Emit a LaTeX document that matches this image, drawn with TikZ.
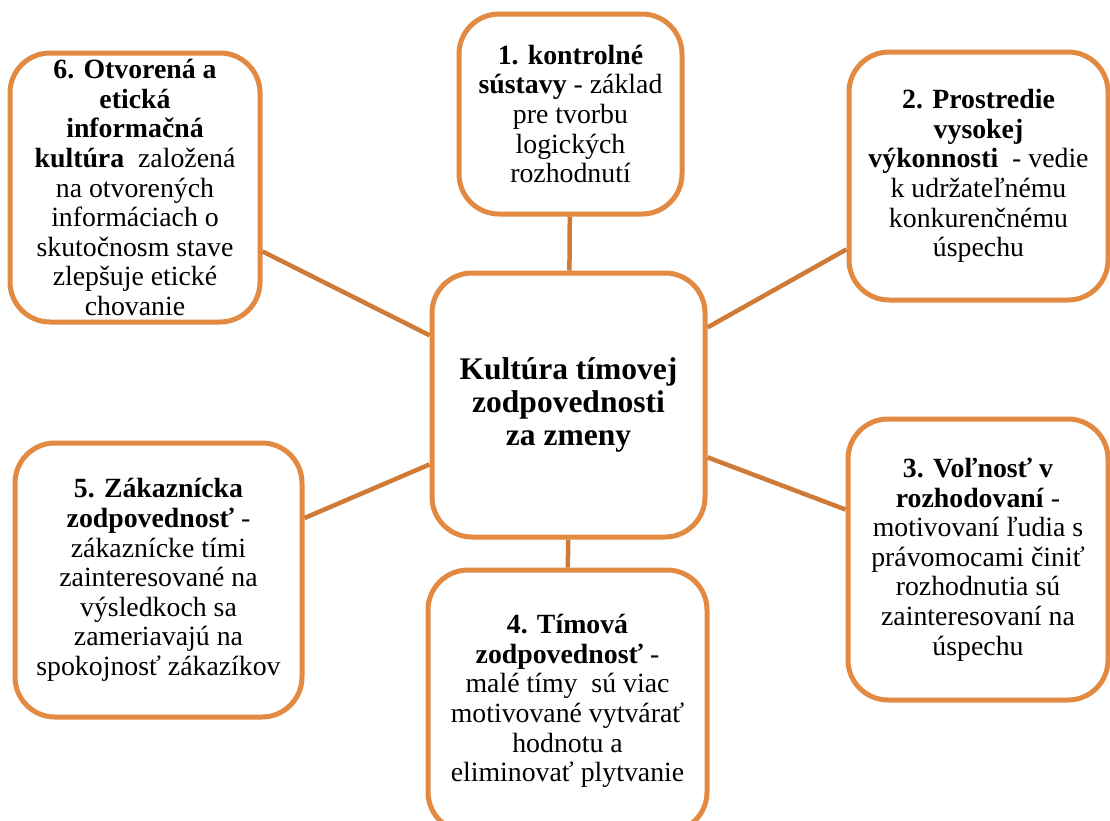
\documentclass[tikz,border=0pt]{standalone}
\usepackage{fontspec}
\newfontfamily\timesfont{LiberationSerif}[Extension=.ttf, UprightFont=*-Regular, BoldFont=*-Bold]
\definecolor{boxorange}{RGB}{226,137,66}
\definecolor{lineorange}{RGB}{207,123,55}
\tikzset{
  idea/.style={draw=boxorange, line width=5pt, fill=white, rounded corners=40pt,
    rectangle, inner sep=0pt, align=center,
    font=\timesfont\fontsize{27.8}{29.6}\selectfont},
  hub/.style={idea, font=\timesfont\fontsize{31.5}{33}\selectfont\bfseries},
  link/.style={draw=lineorange, line width=4.5pt}
}
\begin{document}
\begin{tikzpicture}[x=1pt,y=-1pt]
\useasboundingbox (0,0) rectangle (1110,820);
\node[hub, minimum width=273pt, minimum height=264pt] (c) at (568.5,405)
  {Kultúra tímovej\\zodpovednosti\\za zmeny};
\node[idea, minimum width=223pt, minimum height=200pt] (b1) at (570.5,114)
  {\textbf{1. kontrolné}\\\textbf{sústavy} - základ\\pre tvorbu\\logických\\rozhodnutí};
\node[idea, minimum width=259pt, minimum height=248pt] (b2) at (978.5,176)
  {\textbf{2. Prostredie}\\\textbf{vysokej}\\\textbf{výkonnosti}\ \ - vedie\\k udržateľnému\\konkurenčnému\\úspechu};
\node[idea, minimum width=260pt, minimum height=281pt] (b3) at (978,559.5)
  {\textbf{3. Voľnosť v}\\\textbf{rozhodovaní} -\\motivovaní ľudia s\\právomocami činiť\\rozhodnutia sú\\zainteresovaní na\\úspechu};
\node[idea, minimum width=279pt, minimum height=262pt] (b4) at (567.5,701)
  {\textbf{4. Tímová}\\\textbf{zodpovednosť} -\\malé tímy\ \ sú viac\\motivované vytvárať\\hodnotu a\\eliminovať plytvanie};
\node[idea, minimum width=287pt, minimum height=274pt] (b5) at (158.5,580)
  {\textbf{5. Zákaznícka}\\\textbf{zodpovednosť} -\\zákaznícke tími\\zainteresované na\\výsledkoch sa\\zameriavajú na\\spokojnosť zákazíkov};
\node[idea, minimum width=250pt, minimum height=269pt] (b6) at (135,187.5)
  {\textbf{6. Otvorená a}\\\textbf{etická}\\\textbf{informačná}\\\textbf{kultúra}\ \ založená\\na otvorených\\informáciach o\\skutočnosm stave\\zlepšuje etické\\chovanie};
\draw[link] (c) -- (b1);
\draw[link] (c) -- (b2);
\draw[link] (c) -- (b3);
\draw[link] (c) -- (b4);
\draw[link] (c) -- (b5);
\draw[link] (c) -- (b6);
\end{tikzpicture}
\end{document}
